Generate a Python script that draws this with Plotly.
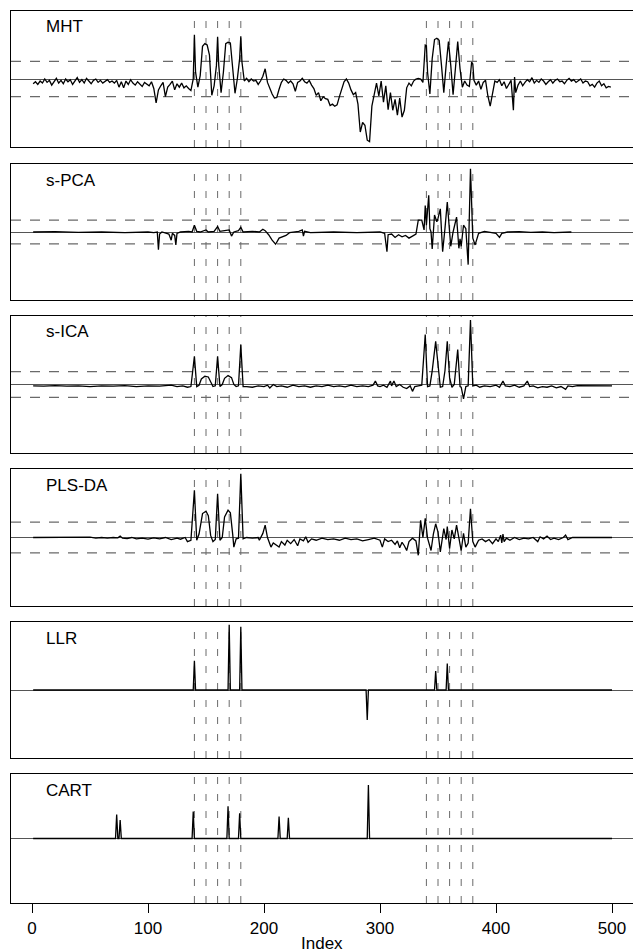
import plotly.graph_objects as go

# ---------------- data ----------------
panel_names = ["MHT", "s-PCA", "s-ICA", "PLS-DA", "LLR", "CART"]

mht_x = [1,3,5,7,9,11,13,15,17,19,21,23,25,27,29,31,33,35,37,39,41,43,45,47,49,51,53,55,57,59,
         61,63,65,67,69,71,73,75,77,79,81,83,85,87,89,91,93,95,97,99,101,103,105,107,109,111,113,115,117,119,
         121,123,125,127,129,131,133,135,137,139,140,141,143,145,147,149,151,153,155,157,159,160,161,163,165,167,169,171,173,175,
         177,179,180,181,183,185,187,189,191,193,195,197,199,201,203,205,207,209,211,213,215,217,219,221,223,225,227,229,231,233,
         235,237,239,241,243,245,247,249,251,253,255,257,259,261,263,265,267,269,271,273,275,277,279,281,283,285,287,289,291,293,
         295,297,299,301,303,305,307,309,311,313,315,317,319,321,323,325,327,329,331,333,335,337,339,340,341,343,345,347,349,351,
         353,355,357,359,361,363,365,367,369,371,373,375,377,379,380,381,383,385,387,389,391,393,395,397,399,401,403,405,407,409,
         411,413,415,416,417,419,421,423,425,427,429,431,433,435,437,439,441,443,445,447,449,451,453,455,457,459,461,463,465,467,
         469,471,473,475,477,479,481,483,485,487,489,491,493,495,497,499]
mht_y = [-0.7,-0.4,-0.8,-0.3,-0.6,0.0,-0.5,-0.2,-0.9,-0.3,0.1,-0.6,-0.2,-0.7,0.0,-0.4,-0.1,-0.8,-0.2,0.2,
         -0.5,-0.1,-0.6,0.1,-0.3,-0.7,-0.2,0.0,-0.5,-0.2,-0.6,-0.3,-0.1,-0.5,-0.3,-0.6,-0.2,-1.2,-0.4,-1.3,
         -0.3,-0.8,-0.1,-0.6,-0.9,-0.4,-0.7,-1.1,-0.5,-0.8,-1.0,-0.4,-1.4,-3.5,-1.6,-1.0,-0.5,-2.6,-1.2,-0.8,
         -0.3,-1.6,-0.7,-1.2,-0.6,-1.3,-1.0,-1.4,-1.7,0.0,6.5,1.0,-1.2,0.5,4.8,5.2,5.0,3.5,-2.4,-1.0,
         2.0,6.2,2.0,-2.0,1.0,5.2,5.4,5.3,2.0,-2.1,0.0,3.0,6.3,2.5,-0.3,0.1,-0.4,0.0,-0.3,-0.2,
         -0.8,-0.3,0.4,1.5,-0.5,-1.4,-2.2,-2.8,-2.7,-1.5,-0.5,0.0,-0.2,-0.6,-0.3,-0.7,-1.8,-0.5,-0.3,0.1,
         -0.4,-0.6,-0.2,-0.9,-1.4,-2.4,-2.0,-3.2,-2.6,-2.9,-3.0,-3.9,-3.7,-4.0,-3.8,-2.6,-1.3,-0.4,0.0,-0.6,
         -1.6,-2.3,-2.0,-3.7,-7.8,-6.4,-6.8,-9.0,-9.2,-4.0,-2.3,-0.6,-2.5,-0.3,-3.4,-1.0,-4.5,-2.0,-4.6,-3.0,
         -5.3,-2.8,-5.6,-4.6,-1.3,-0.6,-1.0,-0.3,0.0,0.1,0.0,-0.5,5.0,4.9,1.0,-2.2,3.0,5.8,6.0,5.7,
         2.0,-2.0,2.0,5.5,2.0,-2.3,1.5,5.5,1.5,-1.2,-0.3,-0.9,-1.1,2.5,2.2,-0.2,-0.9,-0.3,-1.5,-0.5,
         -0.2,-2.5,-4.0,-2.0,-0.3,-0.5,-0.1,-1.0,-0.4,-1.4,-0.8,-0.2,-4.6,0.3,-2.0,-0.9,-0.3,-1.0,-0.5,-0.1,
         -0.4,0.2,-0.6,-0.2,-0.5,0.0,-0.3,-0.8,-0.4,-0.1,-0.6,-0.2,0.0,-0.4,-0.3,-0.7,-0.2,0.1,-0.3,-0.1,
         -0.5,-0.2,0.0,-0.6,-0.3,-0.4,-1.0,-0.8,-1.2,-0.6,-0.3,-1.0,-0.7,-1.3,-1.1,-1.2]

spca_x = [1,20,40,60,80,100,105,108,109,110,112,118,120,121,123,124,125,128,135,138,140,142,145,148,150,152,157,160,162,166,
          170,172,174,178,180,182,190,196,199,201,204,207,210,213,216,219,222,226,230,233,234,235,240,260,280,300,304,306,307,310,
          313,316,319,322,325,328,331,333,336,338,339,340,342,343,344,345,347,349,350,352,354,356,358,360,361,363,366,368,369,370,
          372,374,376,378,380,382,385,390,395,400,403,405,410,420,430,440,450,460,465]
spca_y = [0.0,0.05,-0.05,0.0,-0.1,0.0,-0.1,0.0,-2.6,-0.3,0.0,-0.3,-1.2,-0.2,-0.5,-1.9,-0.2,0.0,0.1,0.0,1.0,0.1,0.0,0.2,0.3,0.0,0.1,0.8,0.1,0.2,
          0.3,-0.6,0.0,0.2,0.7,0.0,0.1,0.0,0.4,0.2,-0.4,-1.2,-1.8,-0.9,-0.7,-0.5,-0.1,0.0,0.1,0.3,-0.6,0.1,-0.1,0.0,-0.1,0.0,-0.2,-2.9,-0.4,-0.3,
          -0.8,-0.4,-0.7,-0.5,-0.9,-0.6,-0.3,1.75,1.75,0.3,3.9,1.0,5.4,0.5,0.0,-2.5,2.5,1.5,2.0,3.4,-2.9,0.5,4.4,0.0,-2.1,0.0,2.2,-2.4,-1.0,-2.1,
          1.0,0.5,-4.8,9.3,-0.9,-1.9,-0.2,0.1,0.0,-0.2,-0.8,-0.2,0.0,0.05,-0.05,0.0,-0.1,0.0,0.0]

sica_x = [1,10,20,30,40,50,60,70,80,90,100,110,120,125,130,134,137,140,142,144,146,149,152,154,156,158,160,162,164,166,
          169,172,174,176,178,180,182,185,190,195,200,203,205,208,211,215,220,225,230,235,240,245,250,255,260,265,270,275,280,285,
          290,294,296,298,300,303,306,309,310,312,314,317,320,323,326,328,330,333,336,339,341,343,345,348,350,352,354,356,358,360,
          362,364,367,369,370,372,374,376,378,380,383,386,390,395,400,403,406,408,412,416,420,424,427,429,432,436,440,444,448,452,
          456,460,462,466,470,480,490,500]
sica_y = [-0.2,-0.25,-0.15,-0.25,-0.2,-0.3,-0.2,-0.25,-0.15,-0.3,-0.2,-0.25,-0.1,-0.3,-0.2,-0.4,-0.3,4.1,-0.3,-0.1,0.8,1.2,1.1,0.3,-0.3,-0.2,4.1,-0.3,0.0,0.9,
          1.3,1.0,0.0,-0.3,-0.2,5.8,-0.3,-0.3,-0.4,-0.2,-0.3,-0.1,-0.5,0.0,-0.3,-0.2,-0.4,-0.1,-0.3,-0.2,-0.4,-0.2,-0.3,-0.1,-0.3,-0.2,-0.35,-0.1,-0.3,-0.2,
          -0.3,-0.1,0.5,-0.2,-0.3,-0.1,-0.4,0.5,-0.2,0.5,-0.3,0.0,-0.4,-0.6,-0.2,-1.0,-0.3,-0.2,-0.1,7.3,-0.3,-0.2,2.0,6.3,2.5,-0.4,-0.3,2.0,6.3,1.0,
          -0.4,0.0,5.1,-0.3,-0.4,-2.1,-0.3,-0.2,9.4,-0.2,-0.1,-0.4,-0.2,-0.3,-0.1,-0.4,0.5,-0.2,-0.3,-0.1,-0.4,-0.2,0.5,-0.3,-0.2,-0.5,-0.3,-0.4,-0.2,-0.5,
          -0.3,-0.7,-0.2,-0.3,-0.15,-0.2,-0.15,-0.2]

plsda_x = [1,10,20,30,40,45,50,55,60,65,70,74,76,78,82,86,90,95,100,105,110,115,120,125,128,132,134,137,140,142,
           144,147,150,152,154,156,158,160,162,164,166,169,171,173,174,176,178,180,182,185,190,195,196,199,201,203,206,208,210,213,
           215,218,220,223,226,229,231,234,236,238,241,245,250,255,260,265,270,275,280,285,290,295,300,302,304,307,310,313,315,317,
           319,321,323,325,328,331,333,335,337,339,341,344,346,348,350,352,355,357,358,360,362,364,366,368,370,372,374,376,378,380,
           382,385,388,391,394,397,400,402,404,405,406,407,409,412,416,420,424,428,432,436,438,441,444,447,450,454,458,460,462,466,
           470,480,490,500]
plsda_y = [0.0,0.0,0.05,0.0,0.0,-0.05,0.05,-0.1,0.0,-0.1,0.0,-0.05,0.2,-0.1,-0.15,0.0,-0.2,-0.1,-0.25,-0.05,-0.2,0.0,-0.3,-0.1,-0.25,0.0,-0.6,-0.4,6.9,-0.4,
           0.5,3.5,3.85,3.2,0.3,-0.6,-0.3,6.4,-0.4,0.0,3.0,4.0,3.6,0.5,-1.4,-0.2,-0.1,9.3,-0.2,0.0,-0.1,0.0,-0.4,0.6,1.8,0.0,-1.4,-0.8,-1.0,-1.4,
           -0.6,-1.1,-0.4,-0.9,-0.3,-1.2,-0.2,-0.5,0.1,-0.7,-0.2,-0.4,-0.1,-0.3,-0.2,-0.4,-0.1,-0.3,-0.2,-0.5,-0.3,-0.1,-0.4,-1.4,-0.2,-0.6,-0.4,-1.0,-0.5,-1.5,
           -0.7,-1.2,-1.9,-0.6,-0.1,-0.5,-2.6,2.5,0.0,2.8,-0.1,-1.9,0.5,2.0,0.8,-2.1,1.3,-0.3,1.6,-1.6,1.1,-0.2,1.8,0.0,-1.9,0.6,-1.4,-0.8,4.2,-0.6,
           -1.4,-0.4,-0.2,-0.6,-0.3,-0.9,-0.2,-0.6,0.35,-0.8,0.5,-0.6,-0.1,-0.4,0.0,-0.3,-0.1,-0.2,0.0,-0.6,0.1,-0.2,0.2,-0.3,-0.1,-0.3,0.0,0.35,-0.3,0.0,
           0.0,0.0,0.0,0.0]

llr_x = [1,139,140,141,169,170,171,179,180,181,288,289,290,347,348,349,357,358,359,500]
llr_y = [0,0,4.3,0,0,9.6,0,0,9.3,0,0,-4.4,0,0,2.8,0,0,3.9,0,0]

cart_x = [1,72,73,74,75,76,77,138,139,140,168,169,170,178,179,180,212,213,214,220,221,222,289,290,291,500]
cart_y = [0,0,3.7,0,0,2.85,0,0,4.2,0,0,5.0,0,0,3.9,0,0,3.4,0,0,3.2,0,0,8.3,0,0]

series_x = [mht_x, spca_x, sica_x, plsda_x, llr_x, cart_x]
series_y = [mht_y, spca_y, sica_y, plsda_y, llr_y, cart_y]

thresholds = [2.6, 1.75, 1.87, 2.25, None, None]
marker_positions = [140, 150, 160, 170, 180, 340, 350, 360, 370, 380]
x_ticks = [0, 100, 200, 300, 400, 500]
x_label = "Index"

# ---------------- layout ----------------
W, H = 633, 952
panel_px = [(11, 147), (164, 300), (316, 453), (469, 606), (622, 758), (774, 903)]
FONT = "Liberation Sans, Arial, Helvetica, sans-serif"
GRAY = "#6a6a6a"

fig = go.Figure()
layout = dict(
    width=W, height=H,
    margin=dict(l=11, r=0, t=0, b=0),
    paper_bgcolor="white", plot_bgcolor="white",
    showlegend=False,
    font=dict(family=FONT, size=17, color="black"),
    shapes=[], annotations=[],
)

for i in range(6):
    n = i + 1
    xs = "" if n == 1 else str(n)
    top, bot = panel_px[i]
    dom = [1 - bot / H, 1 - top / H]
    last = (n == 6)
    layout["xaxis" + xs] = dict(
        domain=[0, 1], anchor="y" + xs, range=[-18.1, 518.1],
        showline=True, mirror=True, linecolor="black", linewidth=1.4,
        showgrid=False, zeroline=False,
        ticks="outside" if last else "", ticklen=9, tickwidth=1.2, tickcolor="black",
        tickvals=x_ticks, showticklabels=last,
        tickfont=dict(family=FONT, size=17, color="black"),
    )
    layout["yaxis" + xs] = dict(
        domain=dom, anchor="x" + xs, range=[-10, 10],
        showline=True, mirror=False, linecolor="black", linewidth=1.4,
        showgrid=False, showticklabels=False, ticks="",
        zeroline=True, zerolinecolor="#555555", zerolinewidth=1,
    )
    fig.add_trace(go.Scatter(
        x=series_x[i], y=series_y[i], mode="lines",
        line=dict(color="black", width=1.3),
        xaxis="x" + xs, yaxis="y" + xs, hoverinfo="skip",
    ))
    for v in marker_positions:
        layout["shapes"].append(dict(
            type="line", layer="below",
            xref="x" + xs, x0=v, x1=v,
            yref="y" + xs + " domain", y0=0, y1=1,
            line=dict(color=GRAY, width=1, dash="7px,10px"),
        ))
    t = thresholds[i]
    if t is not None:
        for s in (t, -t):
            layout["shapes"].append(dict(
                type="line", layer="below",
                xref="x" + xs + " domain", x0=0, x1=1,
                yref="y" + xs, y0=s, y1=s,
                line=dict(color=GRAY, width=1.2, dash="10px,9px"),
            ))
    hpx = bot - top
    layout["annotations"].append(dict(
        text=panel_names[i], showarrow=False,
        xref="x" + xs + " domain", x=33 / 622, xanchor="left",
        yref="y" + xs + " domain", y=1 - 16 / hpx, yanchor="middle",
        font=dict(family=FONT, size=17, color="black"),
    ))

layout["annotations"].append(dict(
    text=x_label, showarrow=False,
    xref="x6", x=250, xanchor="center",
    yref="paper", y=1 - 943 / H, yanchor="middle",
    font=dict(family=FONT, size=17, color="black"),
))

fig.update_layout(**layout)
fig.write_html("out.html")
